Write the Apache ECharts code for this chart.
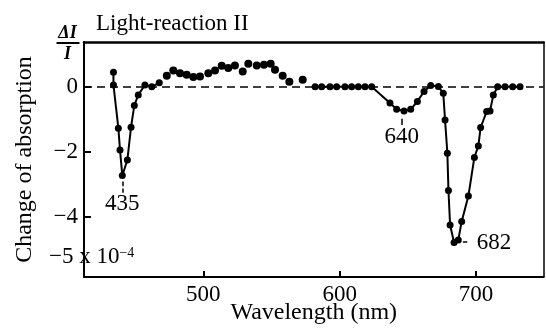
<!DOCTYPE html>
<html>
<head>
<meta charset="utf-8">
<script src="https://cdn.jsdelivr.net/npm/echarts@6/dist/echarts.min.js"></script>
<style>html,body{margin:0;padding:0;background:#fff}#c{width:546px;height:328px}</style>
</head>
<body>
<div id="c"></div>
<script>
// ---- data (wavelength nm, change of absorption x 1e-4) ----
const dip435Wave  = [434.1, 434.1, 437.7, 438.9, 440.6, 444.3, 447.0, 449.4, 452.3, 457.2, 462.2, 467.7];
const dip435Value = [0.45, 0.06, -1.27, -1.94, -2.73, -2.25, -1.24, -0.57, -0.25, 0.06, 0.0, 0.13];

const dotWave  = [473.2, 478.0, 482.9, 487.8, 492.7, 497.6, 503.7, 508.6, 513.5, 518.3, 523.2, 528.9, 533.0, 539.2, 544.5, 549.4, 552.6, 558.2, 563.1, 572.9];
const dotValue = [0.34, 0.50, 0.42, 0.37, 0.30, 0.32, 0.42, 0.50, 0.65, 0.58, 0.66, 0.47, 0.71, 0.66, 0.68, 0.71, 0.53, 0.34, 0.16, 0.22];

const redWave  = [582.0, 586.8, 592.9, 597.8, 603.9, 608.8, 613.7, 618.6, 623.5, 636.9, 641.8, 647.2, 652.1, 657.0, 661.9, 666.8, 672.4, 676.0, 677.3, 679.0, 679.8, 681.0, 683.9, 687.0, 689.5, 694.4, 698.8, 701.7, 703.4, 707.8, 710.3, 712.7, 715.9, 721.3, 726.9, 732.3];
const redValue = [0, 0, 0, 0, 0, 0, 0, 0, 0, -0.50, -0.69, -0.74, -0.69, -0.45, -0.14, 0.04, 0.01, -0.20, -1.02, -2.04, -3.19, -4.25, -4.79, -4.71, -4.14, -3.36, -2.17, -1.82, -1.25, -0.76, -0.74, -0.25, 0, 0, 0, 0];

const xTicks = [500, 600, 700];
const yTicks = [0, -2, -4];

const peakLabels = ['435', '640', '682'];
const peakLabelPos = [[440.5, -3.6], [645.5, -1.55], [700.5, -4.8]];

const zip = (a, b) => a.map((v, i) => [v, b[i]]);
const SERIF = '"Liberation Serif", "DejaVu Serif", serif';

const chart = echarts.init(document.getElementById('c'));
chart.setOption({
  animation: false,
  backgroundColor: '#fff',
  textStyle: { fontFamily: SERIF, color: '#000' },
  grid: { left: 84, right: 2.5, top: 42, bottom: 51, outerBoundsMode: 'none', containLabel: false },
  title: {
    text: 'Light-reaction II', left: 91, top: 7,
    textStyle: { fontFamily: SERIF, fontSize: 23, fontWeight: 'normal', color: '#000' }
  },
  xAxis: [{
    type: 'value', min: 412.5, max: 749.5,
    name: 'Wavelength (nm)', nameLocation: 'middle', nameGap: 24, nameMoveOverlap: false,
    nameTextStyle: { fontFamily: SERIF, fontSize: 24, color: '#000' },
    axisLine: { onZero: false, lineStyle: { color: '#000', width: 2 } },
    axisTick: { inside: true, length: 6, customValues: xTicks, lineStyle: { color: '#000', width: 2 } },
    axisLabel: { customValues: xTicks, margin: 6, fontFamily: SERIF, fontSize: 23, color: '#000' },
    splitLine: { show: false }
  }, {
    type: 'value', position: 'top', min: 412.5, max: 749.5,
    axisLine: { onZero: false, lineStyle: { color: '#000', width: 2.5 } },
    axisTick: { show: false }, axisLabel: { show: false }, splitLine: { show: false }
  }],
  yAxis: [{
    type: 'value', min: -5.85, max: 1.38,
    name: 'Change of absorption', nameLocation: 'middle', nameGap: 47, nameMoveOverlap: false,
    nameTextStyle: { fontFamily: SERIF, fontSize: 24, color: '#000' },
    axisLine: { onZero: false, lineStyle: { color: '#000', width: 2 } },
    axisTick: { inside: true, length: 7, customValues: yTicks, lineStyle: { color: '#000', width: 2 } },
    axisLabel: {
      customValues: yTicks, margin: 6, fontFamily: SERIF, fontSize: 23, color: '#000',
      formatter: v => (v < 0 ? '\u2212' + Math.abs(v) : String(v))
    },
    splitLine: { show: false }
  }, {
    type: 'value', position: 'right', min: -5.85, max: 1.38,
    axisLine: { onZero: false, lineStyle: { color: '#000', width: 1.5 } },
    axisTick: { show: false }, axisLabel: { show: false }, splitLine: { show: false }
  }],
  series: [{
    type: 'line', data: zip(dip435Wave, dip435Value),
    symbol: 'circle', symbolSize: 7, showAllSymbol: true,
    lineStyle: { color: '#000', width: 2 }, itemStyle: { color: '#000' },
    markLine: {
      silent: true, symbol: 'none', label: { show: false },
      lineStyle: { color: '#000', width: 1.5, type: [8, 5] },
      data: [
        [{ coord: [412.5, 0] }, { coord: [749.5, 0] }],
      ]
    }
  }, {
    type: 'scatter', data: zip(dotWave, dotValue),
    symbol: 'circle', symbolSize: 8, itemStyle: { color: '#000', opacity: 1 }
  }, {
    type: 'line', data: zip(redWave, redValue),
    symbol: 'circle', symbolSize: 7, showAllSymbol: true,
    lineStyle: { color: '#000', width: 2 }, itemStyle: { color: '#000' },
    markLine: {
      silent: true, symbol: 'none', label: { show: false },
      lineStyle: { color: '#000', width: 1.5, type: 'solid' },
      data: [
        [{ coord: [440.6, -2.91] }, { coord: [440.6, -3.06] }],
        [{ coord: [440.6, -3.13] }, { coord: [440.6, -3.26] }],
        [{ coord: [645.5, -0.98] }, { coord: [645.5, -1.17] }],
        [{ coord: [690.4, -4.77] }, { coord: [693.6, -4.77] }]
      ]
    }
  }]
});

function px(p) { return chart.convertToPixel({ gridIndex: 0 }, p); }
const texts = peakLabels.map((t, i) => {
  const p = px(peakLabelPos[i]);
  return {
    type: 'text', x: p[0], y: p[1],
    style: { text: t, font: '23px ' + SERIF, fill: '#000',
      align: i === 2 ? 'left' : 'center', verticalAlign: 'middle' }
  };
});
const p5 = px([412.5, -5.0]);
chart.setOption({
  graphic: texts.concat([{
    type: 'text', x: 49, y: p5[1] + 8,
    style: {
      text: '{a|\u22125 x 10}{s|\u22124}',
      verticalAlign: 'middle', align: 'left',
      backgroundColor: '#fff', padding: [5, 0, 5, 0],
      rich: {
        a: { font: '23px ' + SERIF, fill: '#000' },
        s: { font: '14px ' + SERIF, fill: '#000', verticalAlign: 'top', padding: [0, 0, 9, 0] }
      }
    }
  }, {
    type: 'group', left: 54, top: 24,
    children: [
      { type: 'text', x: 12, y: 0, style: { text: '\u0394I', font: 'italic bold 18px ' + SERIF, fill: '#000', align: 'center' } },
      { type: 'line', shape: { x1: 1, y1: 19, x2: 24, y2: 19 }, style: { stroke: '#000', lineWidth: 2 } },
      { type: 'text', x: 12, y: 21, style: { text: 'I', font: 'italic bold 18px ' + SERIF, fill: '#000', align: 'center' } }
    ]
  }])
});
</script>
</body>
</html>
